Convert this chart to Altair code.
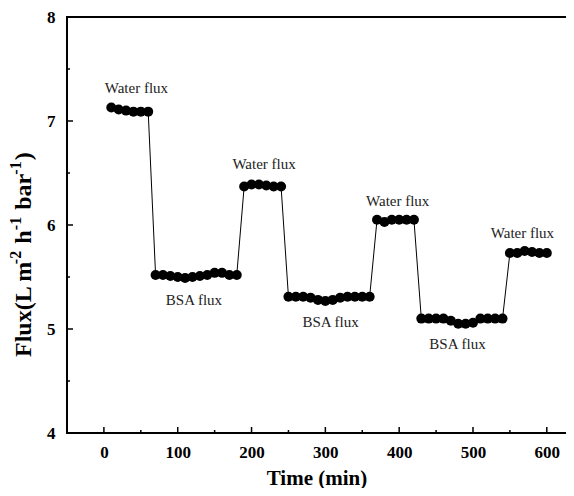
import altair as alt
import pandas as pd

# ---- data ----
time = list(range(10, 610, 10))
flux = (
    [7.13, 7.11, 7.10, 7.09, 7.09, 7.09]
    + [5.52, 5.52, 5.51, 5.50, 5.49, 5.50, 5.51, 5.52, 5.54, 5.54, 5.52, 5.52]
    + [6.37, 6.39, 6.39, 6.38, 6.37, 6.37]
    + [5.31, 5.31, 5.31, 5.30, 5.28, 5.27, 5.28, 5.30, 5.31, 5.31, 5.31, 5.31]
    + [6.05, 6.03, 6.05, 6.05, 6.05, 6.05]
    + [5.10, 5.10, 5.10, 5.10, 5.08, 5.05, 5.05, 5.06, 5.10, 5.10, 5.10, 5.10]
    + [5.73, 5.73, 5.75, 5.74, 5.73, 5.73]
)

label_text = ["Water flux", "BSA flux", "Water flux", "BSA flux",
              "Water flux", "BSA flux", "Water flux"]
label_x = [44, 122, 217, 307, 398, 479, 567]
label_y = [7.32, 5.28, 6.59, 5.07, 6.23, 4.86, 5.92]

x_major = [0, 100, 200, 300, 400, 500, 600]
x_minor = [50, 150, 250, 350, 450, 550]
y_major = [5, 6, 7]
y_minor = [4.5, 5.5, 6.5, 7.5]
y_labels = [4, 5, 6, 7, 8]

# y-axis title pieces: (text, is_superscript, gap after)
y_title_parts = [("Flux(L m", False, 1), ("-2", True, 7), ("h", False, 1),
                 ("-1", True, 7), ("bar", False, 1), ("-1", True, 1),
                 (")", False, 0)]

W, H = 499, 416
FONT = "Liberation Serif"
MAIN_SIZE, SUP_SIZE = 24, 16

df = pd.DataFrame({"time": time, "flux": flux})
lab = pd.DataFrame({"x": label_x, "y": label_y, "text": label_text})

xs = alt.Scale(domain=[-50, 626], nice=False, zero=False)
ys = alt.Scale(domain=[4, 8], nice=False, zero=False)

x_axis = alt.Axis(values=x_major, ticks=False, grid=False, domain=False,
                  labelFont=FONT, labelFontWeight="bold", labelFontSize=17,
                  labelColor="black", labelPadding=11, labelFlush=False,
                  labelOverlap=False, title="Time (min)",
                  titleFont=FONT, titleFontSize=21, titleFontWeight="bold",
                  titleColor="black", titlePadding=7)
y_axis = alt.Axis(values=y_labels, format="d", ticks=False, grid=False,
                  domain=False, labelFont=FONT, labelFontWeight="bold",
                  labelFontSize=17, labelColor="black", labelPadding=12,
                  labelFlush=False, labelOverlap=False, title=None)


def X(field):
    return alt.X(field, scale=xs, axis=x_axis, title="Time (min)")


def Y(field):
    return alt.Y(field, scale=ys, axis=y_axis, title=None)


line = alt.Chart(df).mark_line(color="black", strokeWidth=1).encode(
    x=X("time:Q"), y=Y("flux:Q"))
points = alt.Chart(df).mark_circle(size=100, color="black", opacity=1).encode(
    x=X("time:Q"), y=Y("flux:Q"))
texts = alt.Chart(lab).mark_text(font=FONT, fontSize=15, color="#222").encode(
    x=X("x:Q"), y=Y("y:Q"), text="text:N")

xmaj = alt.Chart(pd.DataFrame({"t": x_major})).mark_rule(color="black", strokeWidth=1.5).encode(
    x=X("t:Q"), y=alt.value(H), y2=alt.value(H - 6))
xmin = alt.Chart(pd.DataFrame({"t": x_minor})).mark_rule(color="black", strokeWidth=1.5).encode(
    x=X("t:Q"), y=alt.value(H), y2=alt.value(H - 3))
ymaj = alt.Chart(pd.DataFrame({"v": y_major})).mark_rule(color="black", strokeWidth=1.5).encode(
    y=Y("v:Q"), x=alt.value(0), x2=alt.value(6))
ymin = alt.Chart(pd.DataFrame({"v": y_minor})).mark_rule(color="black", strokeWidth=1.5).encode(
    y=Y("v:Q"), x=alt.value(0), x2=alt.value(3))

one = pd.DataFrame({"a": [0]})
top = alt.Chart(one).mark_rule(color="black", strokeWidth=2).encode(
    x=alt.value(0), x2=alt.value(W + 2), y=alt.value(0))
left = alt.Chart(one).mark_rule(color="black", strokeWidth=2).encode(
    x=alt.value(0), y=alt.value(-1), y2=alt.value(H + 1))
bottom = alt.Chart(one).mark_rule(color="black", strokeWidth=2).encode(
    x=alt.value(0), x2=alt.value(W + 2), y=alt.value(H))

# approximate advance widths (em) of Times/Liberation Serif Bold glyphs
adv = {"F": .611, "l": .278, "u": .556, "x": .5, "(": .333, ")": .333,
       "L": .667, " ": .25, "m": .833, "h": .556, "b": .556, "a": .5,
       "r": .444, "-": .333, "1": .5, "2": .5}
title_layers = []
pos = 340.0  # start (bottom) of the rotated title, in plot pixels
for txt, sup, gap in y_title_parts:
    size = SUP_SIZE if sup else MAIN_SIZE
    title_layers.append(
        alt.Chart(one).mark_text(
            text=txt, font=FONT, fontWeight="bold", fontSize=size,
            color="black", angle=270, align="left", baseline="alphabetic",
        ).encode(x=alt.value(-36 - (10 if sup else 0)), y=alt.value(pos))
    )
    w = sum(adv.get(c, .5) for c in txt) * size
    pos -= (w if sup else w * 0.95) + gap

chart = alt.layer(line, points, texts, xmaj, xmin, ymaj, ymin, top, left,
                  bottom, *title_layers).properties(
    width=W, height=H,
    autosize=alt.AutoSizeParams(type="none"),
    padding={"left": 59, "top": 9, "right": 0, "bottom": 55},
).configure_view(stroke=None).configure(background="white")

chart.save("out.html", embed_options={"renderer": "svg", "actions": False})
